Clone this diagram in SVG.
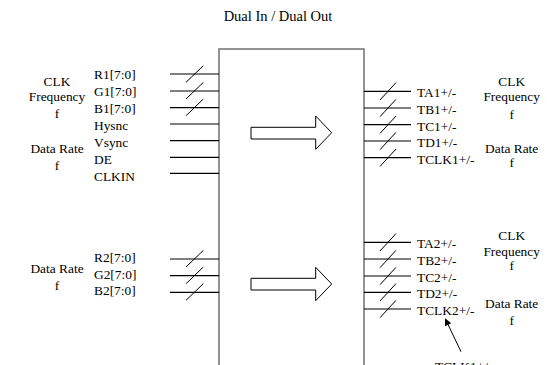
<svg xmlns="http://www.w3.org/2000/svg" width="547" height="365" viewBox="0 0 547 365">
<defs>
<style>
text{font-family:"Liberation Serif","Times New Roman",serif;font-size:13.4px;fill:#000}
.c{text-anchor:middle}
.w{stroke:#000;stroke-width:1.2;fill:none}
.s{stroke:#000;stroke-width:1;fill:none}
.box{stroke:#707070;stroke-width:1.5;fill:#fff}
.ba{stroke:#000;stroke-width:1;fill:#fff}
</style>
<marker id="ah" viewBox="0 0 10 10" refX="9" refY="5" markerWidth="10" markerHeight="7" markerUnits="userSpaceOnUse" orient="auto">
<path d="M0,0 L10,5 L0,10 z" fill="#000"/>
</marker>
</defs>
<text class="c" x="278" y="20.5" style="font-size:14.5px">Dual In / Dual Out</text>
<g id="chip">
<rect class="box" x="219" y="49" width="145" height="330"/>
<path class="ba" d="M251,127.3 H315.7 V116 L331.7,132.7 L315.7,149.3 V139 H251 Z"/>
<path class="ba" d="M251,278.3 H315.7 V267.3 L331.7,284 L315.7,300.7 V290 H251 Z"/>
</g>
<g id="connectors">
<path class="w" d="M170,74H219M170,91H219M170,107.7H219M170,124H219M170,140.7H219M170,157.3H219M170,173.3H219"/>
<path class="s" d="M186,82.3L203.3,65.7M186,99L203.3,82.4M186,115.7L203.3,99.1"/>
<path class="w" d="M170,259H219M170,275.7H219M170,292.3H219"/>
<path class="s" d="M186,267L203.3,250.4M186,283.7L203.3,267.1M186,300.3L203.3,283.7"/>
<path class="w" d="M364,91.3H411M364,108H411M364,124.7H411M364,141H411M364,157.7H411"/>
<path class="s" d="M380,100L396,82.6M380,116.7L396,99.3M380,133.4L396,116M380,149.7L396,132.3M380,166.4L396,149"/>
<path class="w" d="M364,242.3H411M364,259H411M364,276H411M364,292.3H411M364,309H411"/>
<path class="s" d="M380,251L396,233.6M380,267.7L396,250.3M380,284.7L396,267.3M380,301L396,283.6M380,317.7L396,300.3"/>
<path class="s" d="M461,351.7L445.4,319" marker-end="url(#ah)"/>
</g>
<g id="left-top">
<text x="94" y="78.5">R1[7:0]</text>
<text x="94" y="95.6">G1[7:0]</text>
<text x="94" y="112.7">B1[7:0]</text>
<text x="94" y="129.8">Hysnc</text>
<text x="94" y="146.9">Vsync</text>
<text x="94" y="164">DE</text>
<text x="94" y="181">CLKIN</text>
<text class="c" x="57" y="85.5">CLK</text>
<text class="c" x="57" y="100.5">Frequency</text>
<text class="c" x="57" y="118">f</text>
<text class="c" x="57" y="153">Data Rate</text>
<text class="c" x="57" y="169.5">f</text>
</g>
<g id="left-bottom">
<text x="94" y="261.5">R2[7:0]</text>
<text x="94" y="278.5">G2[7:0]</text>
<text x="94" y="295">B2[7:0]</text>
<text class="c" x="57" y="273">Data Rate</text>
<text class="c" x="57" y="289.5">f</text>
</g>
<g id="right-top">
<text x="417" y="97.2">TA1+/-</text>
<text x="417" y="113.9">TB1+/-</text>
<text x="417" y="130.6">TC1+/-</text>
<text x="417" y="146.9">TD1+/-</text>
<text x="417" y="163.6">TCLK1+/-</text>
<text class="c" x="511.7" y="85.5">CLK</text>
<text class="c" x="511.7" y="101">Frequency</text>
<text class="c" x="511.7" y="118.5">f</text>
<text class="c" x="511.7" y="152.5">Data Rate</text>
<text class="c" x="511.7" y="166.5">f</text>
</g>
<g id="right-bottom">
<text x="417" y="248">TA2+/-</text>
<text x="417" y="264.7">TB2+/-</text>
<text x="417" y="281.7">TC2+/-</text>
<text x="417" y="298">TD2+/-</text>
<text x="417" y="314.7">TCLK2+/-</text>
<text class="c" x="511.7" y="239.5">CLK</text>
<text class="c" x="511.7" y="255.5">Frequency</text>
<text class="c" x="511.7" y="270">f</text>
<text class="c" x="511.7" y="308">Data Rate</text>
<text class="c" x="511.7" y="324.5">f</text>
</g>
<g id="note">
<text x="435" y="370.5">TCLK1+/-</text>
</g>
</svg>
